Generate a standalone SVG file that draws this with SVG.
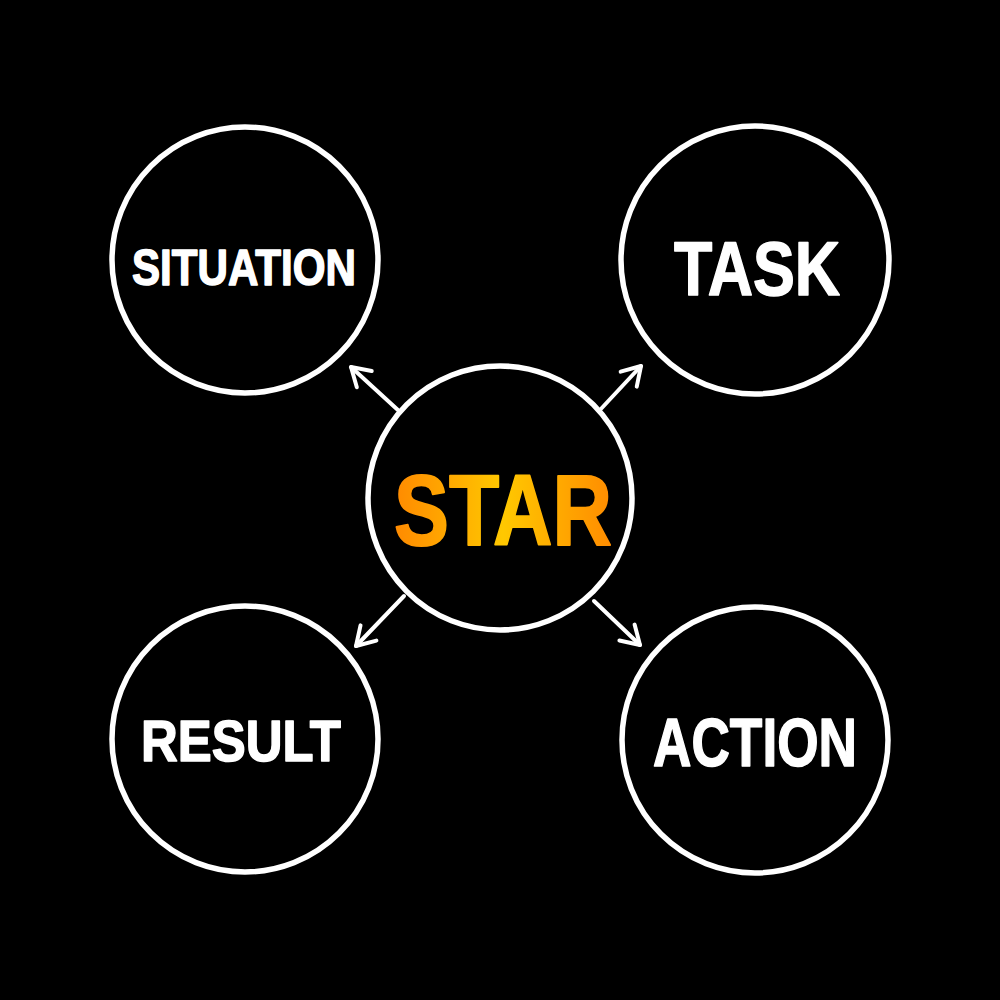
<svg xmlns="http://www.w3.org/2000/svg" width="1000" height="1000" viewBox="0 0 1000 1000">
  <defs>
    <style>
      .ring { fill: #000; stroke: #fff; stroke-width: 5.5; }
      .lbl { font-family: "Liberation Sans", "DejaVu Sans", sans-serif; font-weight: bold; fill: #fff; stroke: #fff; stroke-width: 1.5; stroke-linejoin: round; text-anchor: middle; }
      .conn { stroke: #fff; stroke-width: 4; stroke-linecap: round; fill: none; }
    </style>
    <marker id="arr" viewBox="0 0 28 28" refX="23" refY="14" markerWidth="28" markerHeight="28" markerUnits="userSpaceOnUse" orient="auto">
      <polyline points="5,3 23,14 5,25" fill="none" stroke="#fff" stroke-width="4" stroke-linecap="round" stroke-linejoin="round"/>
    </marker>
    <linearGradient id="starGrad" x1="0" y1="0" x2="1" y2="0">
      <stop offset="0" stop-color="#FF8A00"/>
      <stop offset="0.5" stop-color="#FFC800"/>
      <stop offset="1" stop-color="#FF8C00"/>
    </linearGradient>
  </defs>
  <rect width="1000" height="1000" fill="#000"/>

  <g id="connectors">
    <line class="conn" x1="399" y1="411" x2="351" y2="367" marker-end="url(#arr)"/>
    <line class="conn" x1="599" y1="411" x2="641" y2="366" marker-end="url(#arr)"/>
    <line class="conn" x1="404" y1="596" x2="356" y2="646" marker-end="url(#arr)"/>
    <line class="conn" x1="594" y1="601" x2="640" y2="645" marker-end="url(#arr)"/>
  </g>

  <g id="node-situation">
    <circle class="ring" cx="245" cy="260" r="133"/>
    <text class="lbl" x="244" y="285" font-size="50" textLength="224" lengthAdjust="spacingAndGlyphs">SITUATION</text>
  </g>

  <g id="node-task">
    <circle class="ring" cx="755" cy="260" r="134"/>
    <text class="lbl" x="757" y="295" font-size="76" textLength="166" lengthAdjust="spacingAndGlyphs">TASK</text>
  </g>

  <g id="node-result">
    <circle class="ring" cx="245" cy="739" r="133"/>
    <text class="lbl" x="241" y="761" font-size="58" textLength="200" lengthAdjust="spacingAndGlyphs">RESULT</text>
  </g>

  <g id="node-action">
    <circle class="ring" cx="755" cy="740" r="133"/>
    <text class="lbl" x="755" y="766" font-size="68" textLength="204" lengthAdjust="spacingAndGlyphs">ACTION</text>
  </g>

  <g id="node-star">
    <circle class="ring" cx="500" cy="498" r="132"/>
    <text x="503" y="545" font-family="Liberation Sans, DejaVu Sans, sans-serif" font-weight="bold" font-size="100" text-anchor="middle" fill="url(#starGrad)" stroke="url(#starGrad)" stroke-width="2" stroke-linejoin="round" textLength="218" lengthAdjust="spacingAndGlyphs">STAR</text>
  </g>
</svg>
